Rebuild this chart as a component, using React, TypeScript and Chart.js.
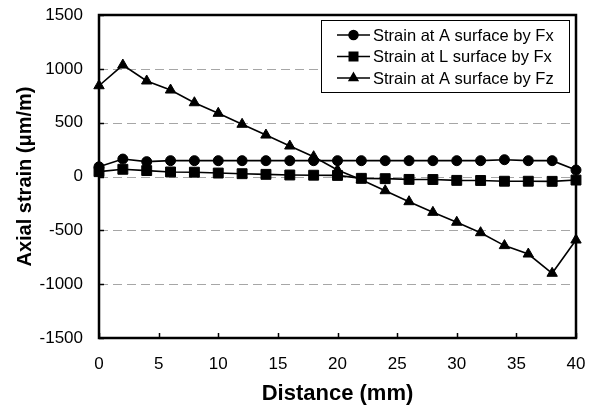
import React, { useEffect, useRef } from "react";
import { Chart, registerables } from "chart.js";
import { drawPoint } from "chart.js/helpers";

Chart.register(...registerables);

const distanceMm = [0, 2, 4, 6, 8, 10, 12, 14, 16, 18, 20, 22, 24, 26, 28, 30, 32, 34, 36, 38, 40];
const strainAFx = [90, 162, 138, 147, 147, 147, 147, 147, 147, 147, 147, 147, 147, 147, 147, 147, 147, 156, 147, 147, 60];
const strainLFx = [45, 67, 55, 42, 40, 32, 26, 20, 14, 12, 10, -17, -20, -27, -28, -36, -37, -44, -44, -45, -33];
const strainAFz = [843, 1035, 887, 803, 685, 587, 485, 385, 283, 184, 60, -30, -132, -234, -333, -425, -522, -642, -720, -899, -590];
const seriesLabels = ["Strain at A surface by Fx", "Strain at L surface by Fx", "Strain at A surface by Fz"];
const seriesShapes = ["circle", "rect", "triangle"];
const seriesRadii = [5, 7, 6];
const legendRadii = [4.5, 6, 5];
const xTitle = "Distance (mm)";
const yTitle = "Axial strain (\u03bcm/m)";
const xMin = 0, xMax = 40, xStep = 5;
const yMin = -1500, yMax = 1500, yStep = 500;

const FONT = "'Liberation Sans', Arial, Helvetica, sans-serif";

const framePlugin = {
  id: "frame",
  beforeDatasetsDraw(chart: any) {
    const { ctx, chartArea: a, scales } = chart;
    ctx.save();
    // dashed horizontal gridlines
    ctx.strokeStyle = "#a6a6a6";
    ctx.lineWidth = 1;
    ctx.setLineDash([9, 5]);
    scales.y.ticks.forEach((t: any) => {
      if (t.value === yMin || t.value === yMax) return;
      const py = Math.round(scales.y.getPixelForValue(t.value)) + 0.5;
      ctx.beginPath();
      ctx.moveTo(a.left, py);
      ctx.lineTo(a.right, py);
      ctx.stroke();
    });
    ctx.setLineDash([]);
    ctx.strokeStyle = "#000";
    ctx.lineWidth = 2.5;
    ctx.strokeRect(Math.round(a.left), Math.round(a.top), Math.round(a.right - a.left), Math.round(a.bottom - a.top));
    ctx.lineWidth = 1.5;
    // inward tick marks
    scales.x.ticks.forEach((t: any) => {
      const px = Math.round(scales.x.getPixelForValue(t.value)) + 0.5;
      ctx.beginPath();
      ctx.moveTo(px, a.bottom);
      ctx.lineTo(px, a.bottom - 5);
      ctx.stroke();
    });
    scales.y.ticks.forEach((t: any) => {
      const py = Math.round(scales.y.getPixelForValue(t.value)) + 0.5;
      ctx.beginPath();
      ctx.moveTo(a.left, py);
      ctx.lineTo(a.left + 5, py);
      ctx.stroke();
    });
    ctx.restore();
  },
  afterDraw(chart: any) {
    const { ctx, chartArea: a } = chart;
    const boxL = Math.round(a.right) - 255;
    const boxT = Math.round(a.top) + 5;
    const boxW = 248;
    const boxH = 72;
    ctx.save();
    ctx.fillStyle = "#fff";
    ctx.fillRect(boxL, boxT, boxW, boxH);
    ctx.strokeStyle = "#000";
    ctx.lineWidth = 1;
    ctx.strokeRect(boxL + 0.5, boxT + 0.5, boxW, boxH);
    ctx.font = `16.5px ${FONT}`;
    ctx.textBaseline = "middle";
    ctx.textAlign = "left";
    seriesLabels.forEach((label, i) => {
      const cy = boxT + 15 + i * 21.5;
      ctx.strokeStyle = "#000";
      ctx.lineWidth = 1.5;
      ctx.beginPath();
      ctx.moveTo(boxL + 16, cy);
      ctx.lineTo(boxL + 49, cy);
      ctx.stroke();
      ctx.fillStyle = "#000";
      drawPoint(ctx, { pointStyle: seriesShapes[i], radius: legendRadii[i], rotation: 0, borderWidth: 1 } as any, boxL + 32.5, cy);
      ctx.fillStyle = "#000";
      ctx.fillText(label, boxL + 52, cy + 1);
    });
    ctx.restore();
  },
};

export default function App() {
  const ref = useRef<HTMLCanvasElement>(null);
  useEffect(() => {
    if (!ref.current) return;
    const series = [strainAFx, strainLFx, strainAFz];
    const chart = new Chart(ref.current, {
      type: "line",
      data: {
        datasets: series.map((s, i) => ({
          label: seriesLabels[i],
          data: distanceMm.map((x, j) => ({ x, y: s[j] })),
          borderColor: "#000",
          backgroundColor: "#000",
          borderWidth: 1.6,
          pointStyle: seriesShapes[i] as any,
          pointRadius: seriesRadii[i],
          pointBackgroundColor: "#000",
          pointBorderColor: "#000",
          pointBorderWidth: 1,
          tension: 0,
          clip: false as any,
        })),
      },
      options: {
        animation: false,
        responsive: false,
        layout: { padding: { top: 15, right: 20, left: 0, bottom: 0 } },
        plugins: { legend: { display: false }, tooltip: { enabled: false } },
        scales: {
          x: {
            type: "linear",
            min: xMin,
            max: xMax,
            ticks: { stepSize: xStep, color: "#000", font: { family: FONT, size: 17 }, padding: 16, maxRotation: 0, callback: (v: any) => String(v) },
            grid: { display: false, drawTicks: false },
            border: { display: false },
            title: { display: true, text: xTitle, color: "#000", font: { family: FONT, size: 22, weight: "bold" }, padding: { top: 0, bottom: 0 } },
            afterFit(scale: any) { scale.height = 69; scale.paddingLeft = 0; scale.paddingRight = 0; },
          },
          y: {
            type: "linear",
            min: yMin,
            max: yMax,
            ticks: { stepSize: yStep, color: "#000", font: { family: FONT, size: 17 }, padding: 16, callback: (v: any) => String(v) },
            grid: { display: false, drawTicks: false },
            border: { display: false },
            title: { display: true, text: yTitle, color: "#000", font: { family: FONT, size: 20, weight: "bold" }, padding: { top: 13, bottom: 0 } },
            afterFit(scale: any) { scale.width = 99; scale.paddingTop = 0; scale.paddingBottom = 0; },
          },
        },
      },
      plugins: [framePlugin],
    });
    return () => chart.destroy();
  }, []);
  return (
    <canvas
      ref={ref}
      width={596}
      height={407}
      style={{ position: "absolute", left: 0, top: 0, width: 596, height: 407 }}
    />
  );
}
